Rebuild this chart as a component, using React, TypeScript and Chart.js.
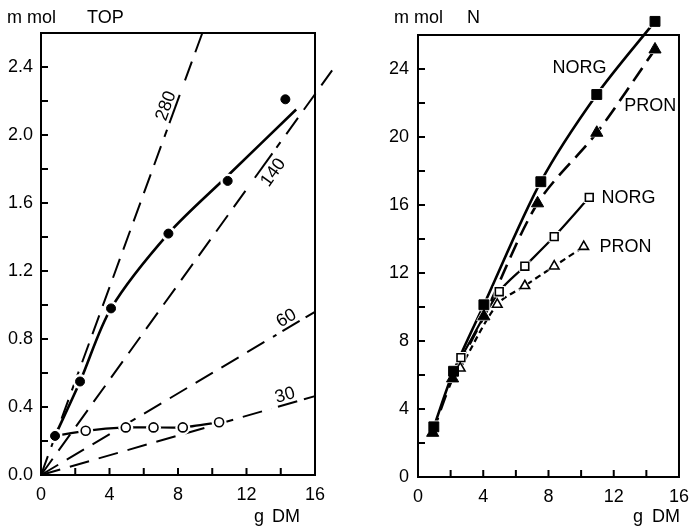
import React, { useEffect, useRef } from 'react';
import { Chart, registerables } from 'chart.js';

Chart.register(...registerables);

const FONT = "'Liberation Sans', Arial, sans-serif";

// ---------- Left panel: m mol TOP vs g DM ----------
const topFilledX = [0.82, 2.28, 4.09, 7.44, 10.9, 14.27];
const topFilledY = [0.23, 0.55, 0.98, 1.42, 1.73, 2.21];
const topFitX = [0.82, 2.28, 4.09, 7.44, 10.9, 14.9];
const topFitY = [0.23, 0.55, 0.98, 1.42, 1.76, 2.15];
const topOpenX = [2.61, 4.95, 6.57, 8.28, 10.4];
const topOpenY = [0.26, 0.28, 0.28, 0.28, 0.31];

const refLabels = ['280', '140', '60', '30'];
const refSlopes = [0.276, 0.14, 0.06, 0.029];
const refEndX = [9.42, 17.0, 16, 16];
const refLabelX = [7.8, 13.0, 14.6, 14.4];
const refLabelSide = [1, -1, 1, 1];

const leftYTicks = { min: 0, max: 2.6, step: 0.2, labelEvery: 0.4 };
const leftXTicks = { min: 0, max: 16, step: 2, labelEvery: 4 };

// ---------- Right panel: m mol N vs g DM ----------
const norgX = [0.97, 2.18, 4.04, 7.53, 10.96, 14.53];
const norgY = [2.95, 6.22, 10.13, 17.37, 22.5, 26.8];
const pronX = [0.9, 2.12, 4.04, 7.33, 10.96, 14.53];
const pronY = [2.6, 5.8, 9.45, 16.1, 20.25, 25.15];
const norgOpenX = [2.63, 4.98, 6.55, 8.35, 10.5];
const norgOpenY = [7.02, 10.9, 12.4, 14.14, 16.45];
const pronOpenX = [2.59, 4.86, 6.55, 8.35, 10.16];
const pronOpenY = [6.4, 10.15, 11.25, 12.4, 13.55];

const rightTexts = ['NORG', 'PRON', 'NORG', 'PRON'];
const rightTextX = [8.24, 12.65, 11.25, 11.12];
const rightTextY = [24.06, 21.83, 16.43, 13.5];

const rightYTicks = { min: 0, max: 26, step: 2, labelEvery: 4 };
const rightXTicks = { min: 0, max: 16, step: 2, labelEvery: 4 };

const pts = (xs: number[], ys: number[]) => xs.map((x, i) => ({ x, y: ys[i] }));

function scaleOpts(t: { min: number; max: number; step: number; labelEvery: number }, decimals: number, fit: (s: any) => void, padding: number) {
  return {
    type: 'linear' as const,
    min: t.min,
    max: t.max,
    grid: { display: false, drawTicks: false },
    border: { display: false },
    afterFit: fit,
    ticks: {
      stepSize: t.step,
      autoSkip: false,
      maxRotation: 0,
      padding,
      color: '#000',
      font: { size: 18, family: FONT },
      callback: (v: any) => {
        const n = Number(v);
        const k = Math.round(n / t.labelEvery * 1000) / 1000;
        return Math.abs(k - Math.round(k)) < 1e-6 ? n.toFixed(decimals) : '';
      },
    },
  };
}

const framePlugin = {
  id: 'frame',
  beforeDatasetsDraw(chart: any) {
    const { ctx, chartArea: a, scales } = chart;
    ctx.save();
    ctx.strokeStyle = '#000';
    ctx.lineWidth = 2;
    ctx.strokeRect(a.left, a.top, a.right - a.left, a.bottom - a.top);
    ctx.beginPath();
    scales.x.ticks.forEach((t: any) => {
      const p = scales.x.getPixelForValue(t.value);
      if (p <= a.left + 1 || p >= a.right - 1) return;
      ctx.moveTo(p, a.bottom);
      ctx.lineTo(p, a.bottom - 7);
    });
    scales.y.ticks.forEach((t: any) => {
      const p = scales.y.getPixelForValue(t.value);
      if (p <= a.top + 1 || p >= a.bottom - 1) return;
      ctx.moveTo(a.left, p);
      ctx.lineTo(a.left + 7, p);
    });
    ctx.stroke();
    ctx.restore();
  },
};

// Chart.js skips points lying outside the chart area; draw those with the library's own elements.
const outsidePointsPlugin = {
  id: 'outsidePoints',
  afterDatasetsDraw(chart: any) {
    const { ctx, chartArea: a } = chart;
    const big = { left: -1e5, top: -1e5, right: 1e5, bottom: 1e5 };
    const metas = chart.getSortedVisibleDatasetMetas().slice().reverse();
    metas.forEach((meta: any) => {
      if (meta.dataset && chart.data.datasets[meta.index].showLine) return;
      meta.data.forEach((el: any) => {
        const inside = el.x >= a.left - 0.5 && el.x <= a.right + 0.5 && el.y >= a.top - 0.5 && el.y <= a.bottom + 0.5;
        if (!inside) el.draw(ctx, big);
      });
    });
  },
};

function drawTitles(ctx: CanvasRenderingContext2D, parts: [string, number, number][]) {
  ctx.save();
  ctx.fillStyle = '#000';
  ctx.font = `18px ${FONT}`;
  ctx.textAlign = 'left';
  ctx.textBaseline = 'alphabetic';
  parts.forEach(([s, x, y]) => ctx.fillText(s, x, y));
  ctx.restore();
}

const leftLabelPlugin = {
  id: 'leftLabels',
  afterDatasetsDraw(chart: any) {
    const { ctx, scales } = chart;
    const xs = scales.x, ys = scales.y;
    ctx.save();
    ctx.font = `18px ${FONT}`;
    refLabels.forEach((lab, i) => {
      const s = refSlopes[i];
      const lx = refLabelX[i];
      const px = xs.getPixelForValue(lx);
      const py = ys.getPixelForValue(s * lx);
      const ang = Math.atan2(ys.getPixelForValue(s) - ys.getPixelForValue(0), xs.getPixelForValue(1) - xs.getPixelForValue(0));
      const w = ctx.measureText(lab).width;
      ctx.save();
      ctx.translate(px, py);
      ctx.rotate(ang);
      ctx.fillStyle = '#fff';
      ctx.fillRect(-w / 2 - 7, -3, w + 14, 6);
      ctx.strokeStyle = '#000';
      ctx.lineWidth = 2;
      ctx.beginPath();
      ctx.moveTo(-w / 2, 0);
      ctx.lineTo(w / 2, 0);
      ctx.stroke();
      ctx.fillStyle = '#000';
      ctx.textAlign = 'center';
      ctx.textBaseline = 'alphabetic';
      if (refLabelSide[i] > 0) ctx.fillText(lab, 0, -4);
      else ctx.fillText(lab, 0, 17);
      ctx.restore();
    });
    ctx.restore();
  },
  afterDraw(chart: any) {
    drawTitles(chart.ctx, [['m mol', 7, 23], ['TOP', 87, 23], ['g', 254, 522], ['DM', 272, 522]]);
  },
};

const rightLabelPlugin = {
  id: 'rightLabels',
  afterDatasetsDraw(chart: any) {
    const { ctx, scales } = chart;
    ctx.save();
    ctx.fillStyle = '#000';
    ctx.font = `18px ${FONT}`;
    ctx.textAlign = 'left';
    ctx.textBaseline = 'middle';
    rightTexts.forEach((t, i) => {
      ctx.fillText(t, scales.x.getPixelForValue(rightTextX[i]), scales.y.getPixelForValue(rightTextY[i]));
    });
    ctx.restore();
  },
  afterDraw(chart: any) {
    drawTitles(chart.ctx, [['m mol', 49, 23], ['N', 122, 23], ['g', 288, 522], ['DM', 307, 522]]);
  },
};

function lineDs(data: any[], width: number, dash: number[], order = 4, tension = 0.35) {
  return {
    data,
    showLine: true,
    borderColor: '#000',
    borderWidth: width,
    borderDash: dash,
    pointRadius: 0,
    tension,
    clip: false as const,
    order,
  };
}

function haloDs(data: any[], radius: number, style = 'circle') {
  return {
    data,
    showLine: false,
    pointStyle: style,
    pointRadius: radius,
    pointBackgroundColor: '#fff',
    pointBorderColor: '#fff',
    pointBorderWidth: 0,
    clip: false as const,
    order: 2,
  };
}

function markerDs(data: any[], radius: number, style: string, filled: boolean) {
  return {
    data,
    showLine: false,
    pointStyle: style,
    pointRadius: radius,
    pointBackgroundColor: filled ? '#000' : '#fff',
    pointBorderColor: '#000',
    pointBorderWidth: filled ? 1 : 1.6,
    clip: false as const,
    order: 0,
  };
}

function leftConfig(): any {
  const refDs = refSlopes.map((s, i) =>
    lineDs([{ x: 0, y: 0 }, { x: refEndX[i], y: s * refEndX[i] }], 2, [20, 10], 5, 0)
  );
  const openLine = [{ x: topFilledX[0], y: topFilledY[0] }, ...pts(topOpenX, topOpenY)];
  return {
    type: 'scatter',
    data: {
      datasets: [
        ...refDs,
        lineDs(pts(topFitX, topFitY), 2.6, [], 4, 0.3),
        lineDs(openLine, 2.2, [], 4, 0.2),
        haloDs(pts(topFilledX, topFilledY), 7.5),
        haloDs(pts(topOpenX, topOpenY), 7.5),
        markerDs(pts(topFilledX, topFilledY), 4.5, 'circle', true),
        markerDs(pts(topOpenX, topOpenY), 4.5, 'circle', false),
      ],
    },
    options: {
      responsive: false,
      animation: false,
      devicePixelRatio: 1,
      layout: { padding: { top: 33, right: 30, left: 0, bottom: 0 } },
      plugins: { legend: { display: false }, tooltip: { enabled: false } },
      events: [],
      scales: {
        x: scaleOpts(leftXTicks, 0, (s: any) => { s.height = 55; }, 9),
        y: scaleOpts(leftYTicks, 1, (s: any) => { s.width = 41; }, 8),
      },
    },
    plugins: [framePlugin, outsidePointsPlugin, leftLabelPlugin],
  };
}

function rightConfig(): any {
  return {
    type: 'scatter',
    data: {
      datasets: [
        lineDs(pts(norgX, norgY), 2.6, [], 4, 0.3),
        lineDs(pts(pronX, pronY), 2.6, [16, 8], 4, 0.3),
        lineDs(pts(norgOpenX, norgOpenY), 2.2, [], 4, 0.3),
        lineDs(pts(pronOpenX, pronOpenY), 2.2, [6, 4], 4, 0.3),
        haloDs(pts(norgX, norgY), 9, 'rect'),
        haloDs(pts(pronX, pronY), 9, 'triangle'),
        haloDs(pts(norgOpenX, norgOpenY), 8, 'rect'),
        haloDs(pts(pronOpenX, pronOpenY), 8, 'triangle'),
        markerDs(pts(norgX, norgY), 7, 'rect', true),
        markerDs(pts(pronX, pronY), 7, 'triangle', true),
        markerDs(pts(norgOpenX, norgOpenY), 5.5, 'rect', false),
        markerDs(pts(pronOpenX, pronOpenY), 5.5, 'triangle', false),
      ],
    },
    options: {
      responsive: false,
      animation: false,
      devicePixelRatio: 1,
      layout: { padding: { top: 35, right: 8, left: 0, bottom: 0 } },
      plugins: { legend: { display: false }, tooltip: { enabled: false } },
      events: [],
      scales: {
        x: scaleOpts(rightXTicks, 0, (s: any) => { s.height = 53; }, 9),
        y: scaleOpts(rightYTicks, 0, (s: any) => { s.width = 73; }, 9),
      },
    },
    plugins: [framePlugin, outsidePointsPlugin, rightLabelPlugin],
  };
}

function ChartCanvas({ make, left, width }: { make: () => any; left: number; width: number }) {
  const ref = useRef<HTMLCanvasElement>(null);
  useEffect(() => {
    const chart = new Chart(ref.current as HTMLCanvasElement, make());
    return () => chart.destroy();
  }, [make]);
  return (
    <canvas
      ref={ref}
      width={width}
      height={530}
      style={{ position: 'absolute', left, top: 0, width, height: 530, display: 'block' }}
    />
  );
}

export default function App() {
  return (
    <div style={{ position: 'absolute', left: 0, top: 0, width: 698, height: 530, overflow: 'hidden', background: '#fff' }}>
      <ChartCanvas make={leftConfig} left={0} width={345} />
      <ChartCanvas make={rightConfig} left={345} width={353} />
    </div>
  );
}
